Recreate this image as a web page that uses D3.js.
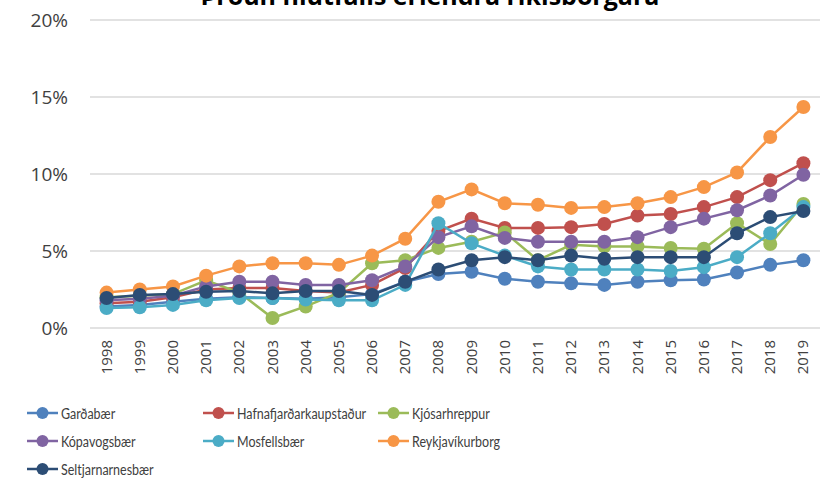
<!DOCTYPE html>
<html>
<head>
<meta charset="utf-8">
<script src="https://cdn.jsdelivr.net/npm/d3@7"></script>
<style>
  body { margin: 0; background: #fff; }
  svg { display: block; font-family: "Open Sans", sans-serif; }
</style>
</head>
<body>
<svg width="834" height="481"></svg>
<script>
const years = ['1998','1999','2000','2001','2002','2003','2004','2005','2006','2007','2008',
               '2009','2010','2011','2012','2013','2014','2015','2016','2017','2018','2019'];

const names = ['Garðabær', 'Hafnafjarðarkaupstaður', 'Kjósarhreppur', 'Kópavogsbær',
               'Mosfellsbær', 'Reykjavíkurborg', 'Seltjarnarnesbær'];

const gardabaer   = [1.4,1.5,1.7,1.9,2.0,1.95,1.9,2.0,2.2,3.0,3.5,3.65,3.2,3.0,2.9,2.8,3.0,3.1,3.15,3.6,4.1,4.4];
const hafnafj     = [1.6,1.7,2.0,2.5,2.6,2.6,2.4,2.3,2.8,3.9,6.3,7.1,6.5,6.5,6.55,6.75,7.3,7.4,7.85,8.5,9.6,10.7];
const kjosar      = [2.0,2.1,2.2,3.1,2.3,0.65,1.4,2.3,4.2,4.4,5.2,5.6,6.2,4.4,5.4,5.3,5.3,5.2,5.15,6.8,5.45,8.05];
const kopavogs    = [1.8,1.9,2.1,2.7,3.0,3.0,2.8,2.8,3.1,4.0,5.9,6.6,5.85,5.6,5.6,5.6,5.9,6.55,7.1,7.65,8.6,9.95];
const mosfells    = [1.3,1.35,1.5,1.8,1.95,1.95,1.85,1.8,1.8,2.8,6.8,5.5,4.7,4.0,3.8,3.8,3.8,3.7,3.95,4.6,6.15,7.85];
const reykjavik   = [2.3,2.5,2.7,3.4,4.0,4.2,4.2,4.1,4.7,5.8,8.2,9.0,8.1,8.0,7.8,7.85,8.1,8.5,9.15,10.1,12.4,14.35];
const seltjarnar  = [1.95,2.15,2.2,2.35,2.4,2.25,2.4,2.4,2.15,3.0,3.8,4.4,4.6,4.4,4.7,4.5,4.6,4.6,4.6,6.15,7.2,7.6];

const colors = ['#4F81BD', '#C0504D', '#9BBB59', '#8064A2', '#4BACC6', '#F79646', '#2C4D75'];
const yTicks = [0, 5, 10, 15, 20];
const title = 'Þróun hlutfalls erlendra ríkisborgara';

const seriesValues = [gardabaer, hafnafj, kjosar, kopavogs, mosfells, reykjavik, seltjarnar];
const series = names.map((n, i) => ({ name: n, color: colors[i], values: seriesValues[i] }));

const svg = d3.select('svg');

const x = d3.scaleBand().domain(years).range([90, 820]);
const y = d3.scaleLinear().domain([0, 20]).range([328, 20]);

// title (cut off at the top, as in the original)
svg.append('text')
  .attr('x', 430).attr('y', 5)
  .attr('text-anchor', 'middle')
  .attr('font-size', 25).attr('font-weight', 'bold')
  .attr('fill', '#000')
  .text(title);

// gridlines
svg.append('g')
  .selectAll('line')
  .data(yTicks)
  .enter()
  .append('line')
  .attr('x1', 90).attr('x2', 820)
  .attr('y1', d => y(d)).attr('y2', d => y(d))
  .attr('stroke', '#d9d9d9').attr('stroke-width', 1.5);

// y axis labels
svg.append('g')
  .selectAll('text')
  .data(yTicks)
  .enter()
  .append('text')
  .attr('x', 68).attr('y', d => y(d))
  .attr('dy', '0.35em')
  .attr('text-anchor', 'end')
  .attr('font-size', 19).attr('fill', '#404040')
  .text(d => d + '%');

// x axis labels, rotated
svg.append('g')
  .selectAll('text')
  .data(years)
  .enter()
  .append('text')
  .attr('transform', d => `translate(${x(d) + x.bandwidth() / 2 + 5}, 340) rotate(-90)`)
  .attr('text-anchor', 'end')
  .attr('font-size', 15).attr('fill', '#404040')
  .text(d => d);

const line = d3.line()
  .x((d, i) => x(years[i]) + x.bandwidth() / 2)
  .y(d => y(d));

const g = svg.append('g');
series.forEach(s => {
  g.append('path')
    .datum(s.values)
    .attr('d', line)
    .attr('fill', 'none')
    .attr('stroke', s.color)
    .attr('stroke-width', 2.5);
  g.selectAll(null)
    .data(s.values)
    .enter()
    .append('circle')
    .attr('cx', (d, i) => x(years[i]) + x.bandwidth() / 2)
    .attr('cy', d => y(d))
    .attr('r', 7)
    .attr('fill', s.color);
});

// legend
const legCols = [27, 203, 378];
const legRows = [413, 441, 469];
const legend = svg.append('g')
  .selectAll('g')
  .data(series)
  .enter()
  .append('g')
  .attr('transform', (d, i) => `translate(${legCols[i % 3]}, ${legRows[Math.floor(i / 3)]})`);

legend.append('line')
  .attr('x1', 0).attr('x2', 31)
  .attr('stroke', d => d.color).attr('stroke-width', 2.5);
legend.append('circle')
  .attr('cx', 15.5).attr('r', 6)
  .attr('fill', d => d.color);
// the original legend font is a narrow one, so squeeze Lato horizontally
legend.append('text')
  .attr('transform', 'translate(34, 0) scale(0.78, 1)')
  .attr('dy', '0.35em')
  .attr('font-family', 'Lato, sans-serif')
  .attr('font-size', 16).attr('fill', '#404040')
  .text(d => d.name);
</script>
</body>
</html>
